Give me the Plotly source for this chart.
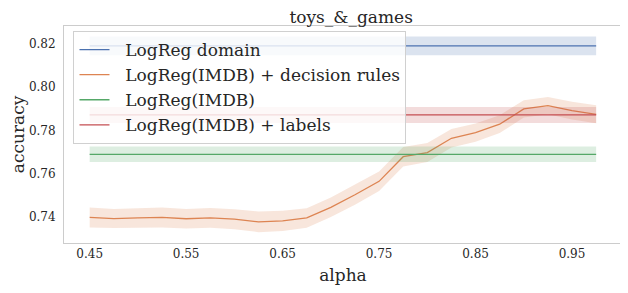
import plotly.graph_objects as go

alpha = [0.45, 0.475, 0.5, 0.525, 0.55, 0.575, 0.6, 0.625, 0.65, 0.675, 0.7,
         0.725, 0.75, 0.775, 0.8, 0.825, 0.85, 0.875, 0.9, 0.925, 0.95, 0.975]

series_names = ["LogReg domain", "LogReg(IMDB) + decision rules", "LogReg(IMDB)", "LogReg(IMDB) + labels"]
colors = ["#4c72b0", "#dd8452", "#55a868", "#c44e52"]

domain_mean = [0.8191] * len(alpha)
domain_err = [0.0043] * len(alpha)

rules_mean = [0.7398, 0.7393, 0.7396, 0.7398, 0.7392, 0.7396, 0.7390, 0.7378, 0.7382, 0.7396, 0.7445,
              0.7503, 0.7565, 0.7679, 0.7698, 0.7764, 0.7790, 0.7829, 0.7900, 0.7915, 0.7892, 0.7875]
rules_err = [0.0046, 0.0044, 0.0045, 0.0046, 0.0045, 0.0046, 0.0046, 0.0048, 0.0047, 0.0045, 0.0045,
             0.0046, 0.0045, 0.0045, 0.0044, 0.0043, 0.0042, 0.0041, 0.0040, 0.0040, 0.0041, 0.0042]

imdb_mean = [0.7690] * len(alpha)
imdb_err = [0.0036] * len(alpha)

labels_mean = [0.7872] * len(alpha)
labels_err = [0.0037] * len(alpha)

means = [domain_mean, rules_mean, imdb_mean, labels_mean]
errs = [domain_err, rules_err, imdb_err, labels_err]

x_ticks = [0.45, 0.55, 0.65, 0.75, 0.85, 0.95]
y_ticks = [0.74, 0.76, 0.78, 0.80, 0.82]


def rgba(hexc, a):
    h = hexc.lstrip("#")
    return "rgba(%d,%d,%d,%s)" % (int(h[0:2], 16), int(h[2:4], 16), int(h[4:6], 16), a)


fig = go.Figure()
for name, col, m, e in zip(series_names, colors, means, errs):
    upper = [a + b for a, b in zip(m, e)]
    lower = [a - b for a, b in zip(m, e)]
    fig.add_trace(go.Scatter(
        x=alpha + alpha[::-1], y=upper + lower[::-1], fill="toself",
        fillcolor=rgba(col, 0.2), line=dict(width=0), mode="lines",
        hoverinfo="skip", showlegend=False))
    fig.add_trace(go.Scatter(
        x=alpha, y=m, mode="lines", name="\u00a0\u00a0" + name,
        line=dict(color=col, width=1.3)))

font = "DejaVu Serif"
fig.update_layout(
    width=620, height=285,
    margin=dict(l=56, r=6, t=18, b=50),
    paper_bgcolor="white", plot_bgcolor="white",
    font=dict(family=font, color="#262626"),
    title=dict(text="toys_&_games", x=0.5535, xanchor="center", y=0.99, yanchor="top",
               pad=dict(t=0, b=0), font=dict(size=17, family=font, color="#262626")),
    legend=dict(x=0.017, y=0.977, xanchor="left", yanchor="top",
                bgcolor="rgba(255,255,255,0.8)", bordercolor="#d0d0d0", borderwidth=1,
                font=dict(size=17, family=font, color="#262626"),
                tracegroupgap=0, itemwidth=30),
    showlegend=True,
)
fig.update_xaxes(
    range=[0.4234, 1.0018], tickvals=x_ticks, ticktext=["%.2f" % v for v in x_ticks],
    showgrid=False, zeroline=False, showline=True, mirror=True, linecolor="#cccccc", linewidth=1,
    ticks="", tickfont=dict(size=12, family=font, color="#262626"),
    title=dict(text="alpha", font=dict(size=17, family=font, color="#262626"), standoff=8),
)
fig.update_yaxes(
    range=[0.728, 0.8283], tickvals=y_ticks, ticktext=["%.2f" % v for v in y_ticks],
    showgrid=False, zeroline=False, showline=True, mirror=True, linecolor="#cccccc", linewidth=1,
    ticks="", ticklabelstandoff=5, tickfont=dict(size=12, family=font, color="#262626"),
    title=dict(text="accuracy", font=dict(size=17, family=font, color="#262626"), standoff=1),
)
fig.write_html("out.html")
